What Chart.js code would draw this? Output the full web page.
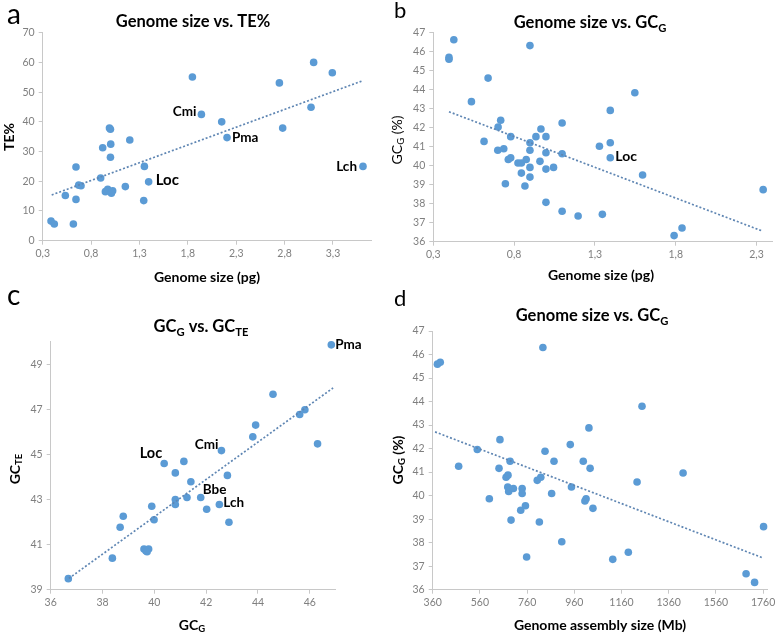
<!DOCTYPE html>
<html>
<head>
<meta charset="utf-8">
<script src="https://cdn.jsdelivr.net/npm/chart.js@4/dist/chart.umd.min.js"></script>
<style>
    html, body { margin: 0; padding: 0; background: #fff; }
    #wrap { position: relative; width: 778px; height: 635px; overflow: hidden; }
    canvas { position: absolute; }
</style>
</head>
<body>
<div id="wrap">
    <canvas id="chartA" width="389" height="317" style="left:0;top:0"></canvas>
    <canvas id="chartB" width="389" height="317" style="left:389px;top:0"></canvas>
    <canvas id="chartC" width="389" height="350" style="left:0;top:285px"></canvas>
    <canvas id="chartD" width="389" height="350" style="left:389px;top:285px"></canvas>
</div>
<script>
// a: genome size (pg) vs TE%
const aSize = [0.386, 0.42, 0.534, 0.617, 0.644, 0.644, 0.672, 0.696, 0.899, 0.92, 0.948, 0.972, 0.99, 1.0, 1.003, 1.0, 1.01, 1.023, 1.154, 1.2, 1.344, 1.351, 1.395, 1.847, 1.94, 2.15, 2.205, 2.746, 2.78, 3.073, 3.1, 3.293, 3.61];
const aTE = [6.6, 5.6, 15.2, 5.6, 24.8, 13.9, 18.7, 18.5, 21.1, 31.3, 16.5, 17.3, 37.9, 37.5, 32.5, 28.1, 16.0, 16.8, 18.2, 33.9, 13.5, 25.0, 19.8, 55.1, 42.5, 40.0, 34.7, 53.1, 37.9, 44.9, 60.0, 56.5, 25.0];
const aTrendX = [0.393, 3.604];
const aTrendY = [15.4, 53.8];
const aXTicks = [0.3, 0.8, 1.3, 1.8, 2.3, 2.8, 3.3];
const aYTicks = [0, 10, 20, 30, 40, 50, 60, 70];
const aTags = ['Cmi', 'Pma', 'Lch', 'Loc'];
const aTagIdx = [24, 26, 32, 22];

// b: genome size (pg) vs GC_G
const bSize = [0.427, 0.397, 0.397, 0.898, 0.639, 0.536, 1.395, 1.547, 0.717, 0.701, 1.097, 0.966, 0.614, 0.779, 0.935, 0.997, 0.898, 1.395, 1.328, 0.699, 0.736, 0.898, 0.997, 1.097, 1.395, 0.764, 0.779, 0.824, 0.845, 0.875, 0.96, 0.898, 1.044, 0.997, 0.845, 0.898, 1.595, 0.746, 0.867, 2.341, 0.997, 1.097, 1.196, 1.346, 1.79, 1.839];
const bGC = [46.63, 45.7, 45.6, 46.32, 44.61, 43.37, 42.91, 43.84, 42.39, 42.04, 42.25, 41.93, 41.28, 41.53, 41.53, 41.53, 41.21, 41.21, 41.02, 40.81, 40.89, 40.81, 40.68, 40.63, 40.42, 40.33, 40.42, 40.14, 40.14, 40.33, 40.23, 39.91, 39.91, 39.82, 39.61, 39.4, 39.51, 39.05, 38.93, 38.74, 38.07, 37.6, 37.35, 37.44, 36.32, 36.72];
const bTrendX = [0.397, 2.33];
const bTrendY = [42.84, 36.58];
const bXTicks = [0.3, 0.8, 1.3, 1.8, 2.3];
const bYTicks = [36, 37, 38, 39, 40, 41, 42, 43, 44, 45, 46, 47];
const bTags = ['Loc'];
const bTagIdx = [24];

// c: GC_G vs GC_TE
const cGCG = [36.68, 38.38, 38.68, 38.8, 39.6, 39.68, 39.78, 39.72, 39.9, 39.99, 40.38, 40.81, 40.81, 40.81, 41.14, 41.26, 41.41, 41.79, 42.02, 42.51, 42.59, 42.82, 42.88, 43.8, 43.91, 44.58, 45.61, 45.81, 46.3, 46.83];
const cGCTE = [39.49, 40.4, 41.77, 42.26, 40.8, 40.72, 40.8, 40.68, 42.7, 42.1, 44.6, 44.18, 43.0, 42.78, 44.69, 43.09, 43.79, 43.09, 42.57, 42.78, 45.17, 44.07, 41.99, 45.78, 46.3, 47.67, 46.77, 46.98, 45.47, 49.86];
const cTrendX = [36.7, 46.9];
const cTrendY = [39.5, 47.95];
const cXTicks = [36, 38, 40, 42, 44, 46];
const cYTicks = [39, 41, 43, 45, 47, 49];
const cTags = ['Loc', 'Cmi', 'Bbe', 'Lch', 'Pma'];
const cTagIdx = [10, 20, 17, 19, 29];

// d: genome assembly size (Mb) vs GC_G
const dSize = [380, 392, 827, 1247, 1022, 645, 943, 549, 836, 470, 688, 874, 998, 641, 1027, 1421, 671, 679, 803, 818, 1226, 948, 678, 682, 702, 739, 739, 864, 1010, 1005, 600, 1039, 753, 733, 692, 812, 1762, 907, 1189, 758, 1123, 1688, 1724];
const dGC = [45.59, 45.67, 46.3, 43.8, 42.88, 42.38, 42.17, 41.96, 41.89, 41.25, 41.46, 41.46, 41.46, 41.16, 41.16, 40.96, 40.78, 40.87, 40.65, 40.78, 40.58, 40.37, 40.37, 40.18, 40.3, 40.3, 40.09, 40.09, 39.87, 39.77, 39.87, 39.46, 39.57, 39.38, 38.96, 38.88, 38.68, 38.04, 37.59, 37.39, 37.29, 36.68, 36.31];
const dTrendX = [370, 1757];
const dTrendY = [42.71, 37.36];
const dXTicks = [360, 560, 760, 960, 1160, 1360, 1560, 1760];
const dYTicks = [36, 37, 38, 39, 40, 41, 42, 43, 44, 45, 46, 47];

const FONT = 'Lato, "Liberation Sans", sans-serif';
const BLUE = '#5b9bd5';
const TREND = '#5f86b3';
const AXIS = '#c8c8c8';
const TICK = '#7f7f7f';

const pairs = (xs, ys) => xs.map((x, i) => ({ x, y: ys[i] }));
const comma = v => v.toFixed(1).replace('.', ',');

// text with '_' prefixed parts drawn as subscript
const rich = (ctx, parts, x, y, size, weight, align) => {
    const segs = parts.map(p => p.startsWith('_')
        ? { t: p.slice(1), s: size * 0.68, dy: size * 0.3 }
        : { t: p, s: size, dy: 0 });
    let w = 0;
    segs.forEach(g => {
        ctx.font = `${weight} ${g.s}px ${FONT}`;
        g.w = ctx.measureText(g.t).width;
        w += g.w;
    });
    let cx = align === 'center' ? x - w / 2 : align === 'right' ? x - w : x;
    ctx.textAlign = 'left';
    ctx.textBaseline = 'middle';
    segs.forEach(g => {
        ctx.font = `${weight} ${g.s}px ${FONT}`;
        ctx.fillText(g.t, cx, y + g.dy);
        cx += g.w;
    });
};

const decor = {
    id: 'decor',
    afterDraw(chart, args, o) {
        const ctx = chart.ctx;
        ctx.save();
        ctx.fillStyle = '#000';
        ctx.font = `${o.letter.size}px ${FONT}`;
        ctx.textAlign = 'left';
        ctx.textBaseline = 'alphabetic';
        ctx.fillText(o.letter.t, o.letter.x, o.letter.y);

        rich(ctx, o.title.parts, o.title.x, o.title.y, 16.5, 'bold', 'center');
        rich(ctx, o.xTitle.parts, o.xTitle.x, o.xTitle.y, 14, 'bold', 'center');

        ctx.save();
        ctx.translate(o.yTitle.x, o.yTitle.y);
        ctx.rotate(-Math.PI / 2);
        rich(ctx, o.yTitle.parts, 0, 0, 14, o.yTitle.weight || 'bold', 'center');
        ctx.restore();

        const meta = chart.getDatasetMeta(1);
        (o.tags || []).forEach((name, k) => {
            const el = meta.data[o.tagIdx[k]];
            const st = o.tagStyle[k];
            if (!el) return;
            rich(ctx, [name], el.x + st.dx, el.y + st.dy, st.size || 13.5, 'bold', st.align);
        });
        ctx.restore();
    }
};

const axis = (min, max, ticks, fmt, fit, horizontal) => ({
    type: 'linear',
    min,
    max,
    afterBuildTicks: s => { s.ticks = ticks.map(v => ({ value: v })); },
    afterFit: s => {
        if (horizontal) s.height = fit; else s.width = fit;
        s.paddingLeft = 0; s.paddingRight = 0; s.paddingTop = 0; s.paddingBottom = 0;
    },
    grid: { display: true, drawOnChartArea: false, drawTicks: true, tickLength: 4, color: AXIS },
    border: { display: true, color: AXIS, width: 1 },
    ticks: {
        color: TICK,
        font: { family: FONT, size: 10.5 },
        padding: horizontal ? 3 : 4,
        maxRotation: 0,
        autoSkip: false,
        callback: fmt
    }
});

const panel = (id, p) => {
    const ctx = document.getElementById(id)?.getContext('2d');
    if (!ctx) return;

    new Chart(ctx, {
        type: 'scatter',
        data: {
            datasets: [
                {
                    type: 'line',
                    data: p.trend,
                    borderColor: TREND,
                    borderWidth: 1.7,
                    borderDash: [2, 2],
                    pointRadius: 0,
                    fill: false,
                    order: 0
                },
                {
                    data: p.points,
                    backgroundColor: BLUE,
                    borderColor: BLUE,
                    pointRadius: 3.8,
                    pointHoverRadius: 3.8,
                    pointBorderWidth: 0,
                    clip: false,
                    order: 1
                }
            ]
        },
        options: {
            responsive: false,
            animation: false,
            events: [],
            layout: { autoPadding: false, padding: p.pad },
            plugins: {
                legend: { display: false },
                tooltip: { enabled: false },
                decor: p.decor
            },
            scales: {
                x: axis(p.x[0], p.x[1], p.xTicks, p.xFmt, p.xH, true),
                y: axis(p.y[0], p.y[1], p.yTicks, p.yFmt, p.yW, false)
            }
        },
        plugins: [decor]
    });
};

panel('chartA', {
    points: pairs(aSize, aTE),
    trend: pairs(aTrendX, aTrendY),
    x: [0.3, 3.7], y: [0, 70],
    xTicks: aXTicks, yTicks: aYTicks,
    xFmt: v => comma(v), yFmt: v => String(v),
    pad: { left: 0, top: 32.7, right: 17.3, bottom: 0 },
    yW: 42.7, xH: 76.3,
    decor: {
        letter: { t: 'a', x: 7, y: 24, size: 28 },
        title: { parts: ['Genome size vs. TE%'], x: 193, y: 22 },
        xTitle: { parts: ['Genome size (pg)'], x: 207, y: 277 },
        yTitle: { parts: ['TE%'], x: 9, y: 137 },
        tags: aTags, tagIdx: aTagIdx,
        tagStyle: [
            { dx: -5, dy: -3, align: 'right' },
            { dx: 5, dy: 0, align: 'left' },
            { dx: -6, dy: 0, align: 'right' },
            { dx: 7, dy: -2, align: 'left', size: 15 }
        ]
    }
});

panel('chartB', {
    points: pairs(bSize, bGC),
    trend: pairs(bTrendX, bTrendY),
    x: [0.3, 2.4], y: [36, 47],
    xTicks: bXTicks, yTicks: bYTicks,
    xFmt: v => comma(v), yFmt: v => String(v),
    pad: { left: 0, top: 32.7, right: 5.3, bottom: 0 },
    yW: 44.3, xH: 75.3,
    decor: {
        letter: { t: 'b', x: 5, y: 18, size: 22 },
        title: { parts: ['Genome size vs. GC', '_G'], x: 201, y: 23 },
        xTitle: { parts: ['Genome size (pg)'], x: 212, y: 275 },
        yTitle: { parts: ['GC', '_G', ' (%)'], x: 8, y: 140, weight: 'normal' },
        tags: bTags, tagIdx: bTagIdx,
        tagStyle: [{ dx: 5, dy: -1, align: 'left', size: 14 }]
    }
});

panel('chartC', {
    points: pairs(cGCG, cGCTE),
    trend: pairs(cTrendX, cTrendY),
    x: [36, 47], y: [39, 50],
    xTicks: cXTicks, yTicks: cYTicks,
    xFmt: v => String(v), yFmt: v => String(v),
    pad: { left: 0, top: 56.7, right: 53.3, bottom: 0 },
    yW: 50.7, xH: 45.3,
    decor: {
        letter: { t: 'c', x: 7, y: 20, size: 28 },
        title: { parts: ['GC', '_G', ' vs. GC', '_TE'], x: 201, y: 42 },
        xTitle: { parts: ['GC', '_G'], x: 192, y: 340 },
        yTitle: { parts: ['GC', '_TE'], x: 15, y: 184 },
        tags: cTags, tagIdx: cTagIdx,
        tagStyle: [
            { dx: -2, dy: -10, align: 'right', size: 14.5 },
            { dx: -3, dy: -6, align: 'right' },
            { dx: 2, dy: -8, align: 'left' },
            { dx: 4, dy: -2, align: 'left' },
            { dx: 4, dy: 0, align: 'left' }
        ]
    }
});

panel('chartD', {
    points: pairs(dSize, dGC),
    trend: pairs(dTrendX, dTrendY),
    x: [360, 1780], y: [36, 47],
    xTicks: dXTicks, yTicks: dYTicks,
    xFmt: v => String(v), yFmt: v => String(v),
    pad: { left: 0, top: 46, right: 10.2, bottom: 0 },
    yW: 43.7, xH: 45.3,
    decor: {
        letter: { t: 'd', x: 5, y: 21, size: 22 },
        title: { parts: ['Genome size vs. GC', '_G'], x: 203, y: 31 },
        xTitle: { parts: ['Genome assembly size (Mb)'], x: 211, y: 340 },
        yTitle: { parts: ['GC', '_G', ' (%)'], x: 9, y: 175 },
        tags: [], tagIdx: [], tagStyle: []
    }
});
</script>
</body>
</html>
